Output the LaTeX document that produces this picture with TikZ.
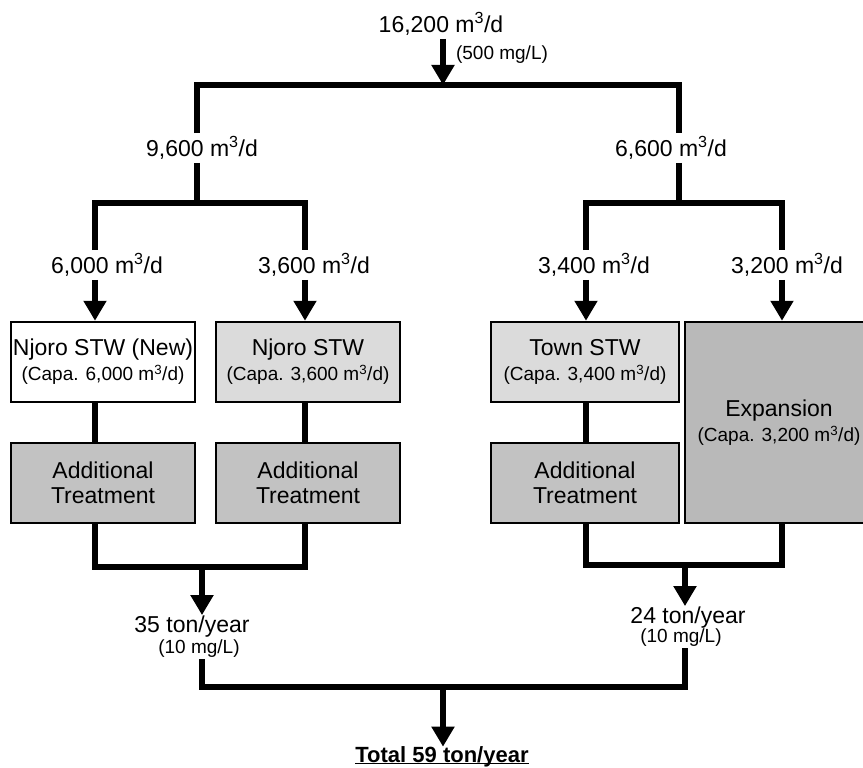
\documentclass[tikz,border=0pt]{standalone}
\usepackage{fontspec}
\setmainfont{Liberation Sans}
\usetikzlibrary{arrows.meta,positioning}
\newcommand{\fsmain}{\fontsize{23}{25}\selectfont}
\newcommand{\fssmall}{\fontsize{19}{22}\selectfont}
\newcommand{\mcd}{m\textsuperscript{3}/d}
\tikzset{box/.style={draw,line width=2.5pt,minimum width=184pt,minimum height=80pt,align=center,inner sep=2pt,font=\fsmain},
  light/.style={box,fill=gray!28},
  dark/.style={box,fill=gray!48},
  flow/.style={inner sep=3pt,font=\fsmain},
  note/.style={inner sep=1pt,font=\fssmall},
  pipe/.style={line width=6pt},
  arr/.style={pipe,-{Triangle[width=22pt,length=20pt]}}}
\begin{document}
\begin{tikzpicture}[x=1pt,y=-1pt]
\useasboundingbox (0,0) rectangle (863,768);
\node[flow] (q0) at (441,24) {16,200 \mcd};
\node[note] (c0) at (502,55) {(500 mg/L)};
\node[flow] (q1) at (202,148) {9,600 \mcd};
\node[flow] (q2) at (671,148) {6,600 \mcd};
\node[flow] (q3) at (107,265) {6,000 \mcd};
\node[flow] (q4) at (314,265) {3,600 \mcd};
\node[flow] (q5) at (594,265) {3,400 \mcd};
\node[flow] (q6) at (787,265) {3,200 \mcd};
\node[box] (njn) at (103,362) {Njoro STW (New)\\{\fssmall (Capa. 6,000 \mcd)}};
\node[light] (njo) at (308,362) {Njoro STW\\{\fssmall (Capa. 3,600 \mcd)}};
\node[light,minimum width=188pt] (town) at (585,362) {Town STW\\{\fssmall (Capa. 3,400 \mcd)}};
\node[dark] (at1) at (103,483) {Additional\\Treatment};
\node[dark] (at2) at (308,483) {Additional\\Treatment};
\node[dark,minimum width=188pt] (at3) at (585,483) {Additional\\Treatment};
\node[dark,fill=gray!55,minimum width=188pt,minimum height=201pt] (exp) at (779,422.5) {Expansion\\{\fssmall (Capa. 3,200 \mcd)}};
\node[flow,inner sep=1pt] (r1) at (192,627) {35 ton/year};
\node[note] (r1b) at (199,649) {(10 mg/L)};
\node[flow,inner sep=1pt] (r2) at (688,618) {24 ton/year};
\node[note] (r2b) at (681,638) {(10 mg/L)};
\node[inner sep=0pt,anchor=base,font=\fontsize{22}{24}\selectfont\bfseries] (tot) at (442,762) {\vphantom{T}\underline{\smash{Total 59 ton/year}}};
\coordinate (spl) at (443,85);
\coordinate (brL) at (197,85);
\coordinate (brR) at (679,85);
\coordinate (subL) at (197,203);
\coordinate (subR) at (679,203);
\coordinate (colA) at (95,203);
\coordinate (colB) at (305,203);
\coordinate (colC) at (586,203);
\coordinate (colD) at (782,203);
\coordinate (mgL) at (202,567);
\coordinate (mgR) at (685,565);
\coordinate (fin) at (443,687);
\draw[arr] (q0.south -| spl) -- (spl);
\draw[pipe] (q1.north -| brL) -- (brL) -- (brR) -- (q2.north -| brR);
\draw[pipe] (q1.south -| subL) -- (subL);
\draw[pipe] (q2.south -| subR) -- (subR);
\draw[pipe] (q3.north -| colA) -- (colA) -- (colB) -- (q4.north -| colB);
\draw[pipe] (q5.north -| colC) -- (colC) -- (colD) -- (q6.north -| colD);
\draw[arr] (q3.south -| colA) -- (njn.north -| colA);
\draw[arr] (q4.south -| colB) -- (njo.north -| colB);
\draw[arr] (q5.south -| colC) -- (town.north -| colC);
\draw[arr] (q6.south -| colD) -- (exp.north -| colD);
\draw[pipe] (njn.south -| colA) -- (at1.north -| colA);
\draw[pipe] (njo.south -| colB) -- (at2.north -| colB);
\draw[pipe] (town.south -| colC) -- (at3.north -| colC);
\draw[pipe] (at1.south -| colA) -- (colA |- mgL) -- (colB |- mgL) -- (at2.south -| colB);
\draw[pipe] (at3.south -| colC) -- (colC |- mgR) -- (colD |- mgR) -- (exp.south -| colD);
\draw[arr] (mgL) -- (r1.north -| mgL);
\draw[arr] (mgR) -- (r2.north -| mgR);
\draw[pipe] (r1b.south -| mgL) -- (mgL |- fin) -- (mgR |- fin) -- (r2b.south -| mgR);
\draw[arr] (fin) -- (tot.north -| fin);
\end{tikzpicture}
\end{document}
